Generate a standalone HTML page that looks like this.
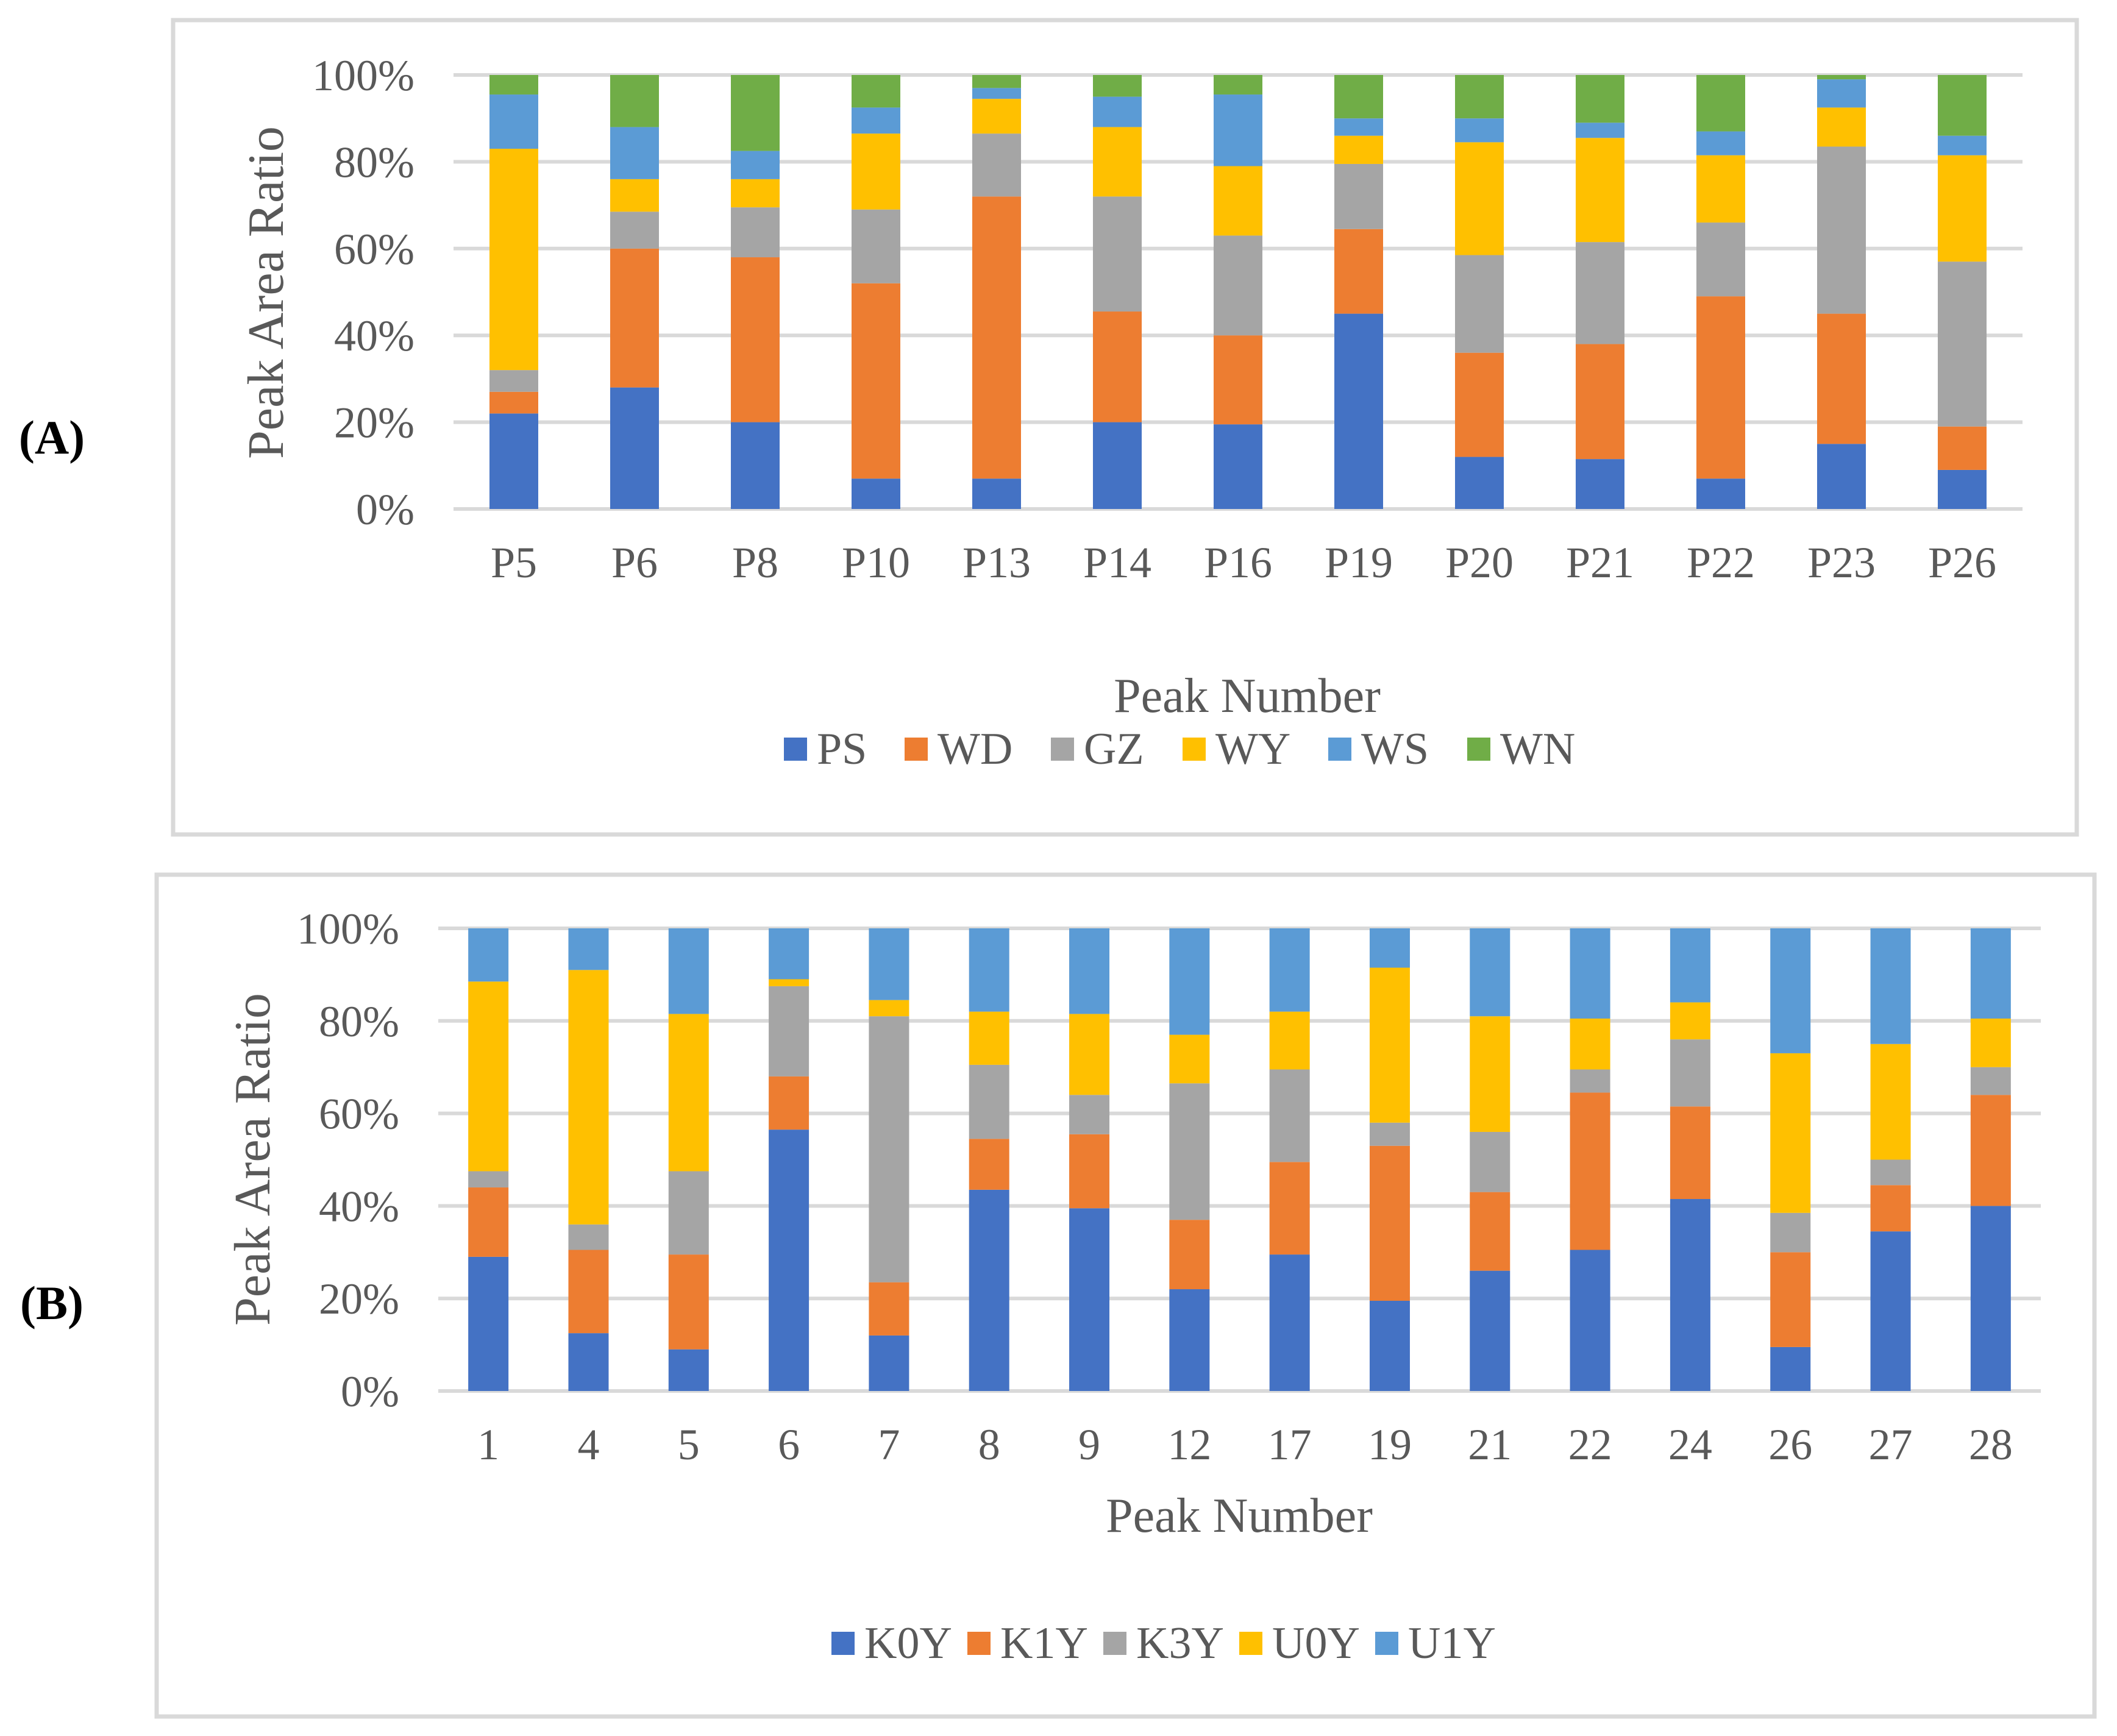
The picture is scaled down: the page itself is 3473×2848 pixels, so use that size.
<!DOCTYPE html>
<html><head><meta charset="utf-8"><style>
html,body{margin:0;padding:0;background:#fff;}
svg{display:block;}
text{font-family:"Liberation Serif",serif;fill:#595959;}
</style></head><body>
<svg id="fig" width="3473" height="2848" viewBox="0 0 3473 2848" xmlns="http://www.w3.org/2000/svg">
<rect x="284" y="33" width="3123" height="1336" fill="none" stroke="#d9d9d9" stroke-width="7"/>
<rect x="257" y="1435" width="3179" height="1381" fill="none" stroke="#d9d9d9" stroke-width="7"/>
<text x="85" y="744" font-size="78" font-weight="bold" text-anchor="middle" style="fill:#000">(A)</text>
<text x="85" y="2164" font-size="78" font-weight="bold" text-anchor="middle" style="fill:#000">(B)</text>
<g id="chartA"></g>
<g id="chartB"></g>
</svg>
<script>
const catsA = ["P5","P6","P8","P10","P13","P14","P16","P19","P20","P21","P22","P23","P26"];
const seriesNamesA = ["PS","WD","GZ","WY","WS","WN"];
const PS = [22,28,20,7,7,20,19.5,45,12,11.5,7,15,9];
const WD = [5,32,38,45,65,25.5,20.5,19.5,24,26.5,42,30,10];
const GZ = [5,8.5,11.5,17,14.5,26.5,23,15,22.5,23.5,17,38.5,38];
const WY = [51,7.5,6.5,17.5,8,16,16,6.5,26,24,15.5,9,24.5];
const WS = [12.5,12,6.5,6,2.5,7,16.5,4,5.5,3.5,5.5,6.5,4.5];
const WN = [4.5,12,17.5,7.5,3,5,4.5,10,10,11,13,1,14];

const catsB = ["1","4","5","6","7","8","9","12","17","19","21","22","24","26","27","28"];
const seriesNamesB = ["K0Y","K1Y","K3Y","U0Y","U1Y"];
const K0Y = [29,12.5,9,56.5,12,43.5,39.5,22,29.5,19.5,26,30.5,41.5,9.5,34.5,40];
const K1Y = [15,18,20.5,11.5,11.5,11,16,15,20,33.5,17,34,20,20.5,10,24];
const K3Y = [3.5,5.5,18,19.5,57.5,16,8.5,29.5,20,5,13,5,14.5,8.5,5.5,6];
const U0Y = [41,55,34,1.5,3.5,11.5,17.5,10.5,12.5,33.5,25,11,8,34.5,25,10.5];
const U1Y = [11.5,9,18.5,11,15.5,18,18.5,23,18,8.5,19,19.5,16,27,25,19.5];

const yTicks = ["0%","20%","40%","60%","80%","100%"];
const colors = ["#4472C4","#ED7D31","#A5A5A5","#FFC000","#5B9BD5","#70AD47"];
const NS = "http://www.w3.org/2000/svg";

function mk(parent, tag, attrs, txt){
  const e = document.createElementNS(NS, tag);
  for (const k in attrs) e.setAttribute(k, attrs[k]);
  if (txt !== undefined) e.textContent = txt;
  parent.appendChild(e);
  return e;
}

function drawChart(g, cfg, cats, names, series){
  const n = cats.length;
  const step = (cfg.right - cfg.left) / n;
  const xScale = i => cfg.left + step * (i + 0.5);
  const yScale = v => cfg.y0 - (v / 100) * (cfg.y0 - cfg.y100);
  yTicks.forEach((t, k) => {
    const v = k * 20;
    const ln = mk(g, "line", {x1: cfg.left, x2: cfg.right, y1: yScale(v), y2: yScale(v), stroke: "#d9d9d9", "stroke-width": 6});
    
    
    const tx = mk(g, "text", {x: cfg.tickX, y: yScale(v) + 25, "font-size": 72, "text-anchor": "end"}, t);
    
    
  });
  cats.forEach((c, i) => {
    let cum = 0;
    series.forEach((s, j) => {
      const v = s[i];
      const y1 = yScale(cum + v), y2 = yScale(cum);
      const r = mk(g, "rect", {x: xScale(i) - cfg.bw / 2, y: y1, width: cfg.bw, height: Math.max(0, y2 - y1), fill: colors[j]});
      
      
      cum += v;
    });
    const lt = mk(g, "text", {x: xScale(i), y: cfg.xLabY, "font-size": 72, "text-anchor": "middle"}, c);
    
    
  });
  const yt = mk(g, "text", {x: 0, y: 0, "font-size": 84, "text-anchor": "middle", transform: `translate(${cfg.ytX},${cfg.ytY}) rotate(-90)`}, "Peak Area Ratio");
  
  
  const xt = mk(g, "text", {x: cfg.xtX, y: cfg.xtY, "font-size": 80, "text-anchor": "middle"}, "Peak Number");
  
  
  names.forEach((nm, j) => {
    const lx = cfg.legX[j];
    const sq = mk(g, "rect", {x: lx, y: cfg.legY - 38, width: 38, height: 38, fill: colors[j]});
    
    
    const lt = mk(g, "text", {x: lx + 54, y: cfg.legY + 5, "font-size": 74}, nm);
    
    
  });
}

drawChart(document.getElementById("chartA"),
  {left: 744, right: 3318, y0: 835, y100: 123, bw: 80, tickX: 680, xLabY: 947,
   ytX: 464, ytY: 480, xtX: 2046, xtY: 1168, legY: 1248,
   legX: [1286,1484,1724,1940,2179,2407]},
  catsA, seriesNamesA, [PS, WD, GZ, WY, WS, WN]);

drawChart(document.getElementById("chartB"),
  {left: 719, right: 3348, y0: 2282, y100: 1523, bw: 66, tickX: 655, xLabY: 2394,
   ytX: 442, ytY: 1902, xtX: 2033, xtY: 2513, legY: 2715,
   legX: [1364,1587,1810,2033,2256]},
  catsB, seriesNamesB, [K0Y, K1Y, K3Y, U0Y, U1Y]);
</script>
</body></html>
